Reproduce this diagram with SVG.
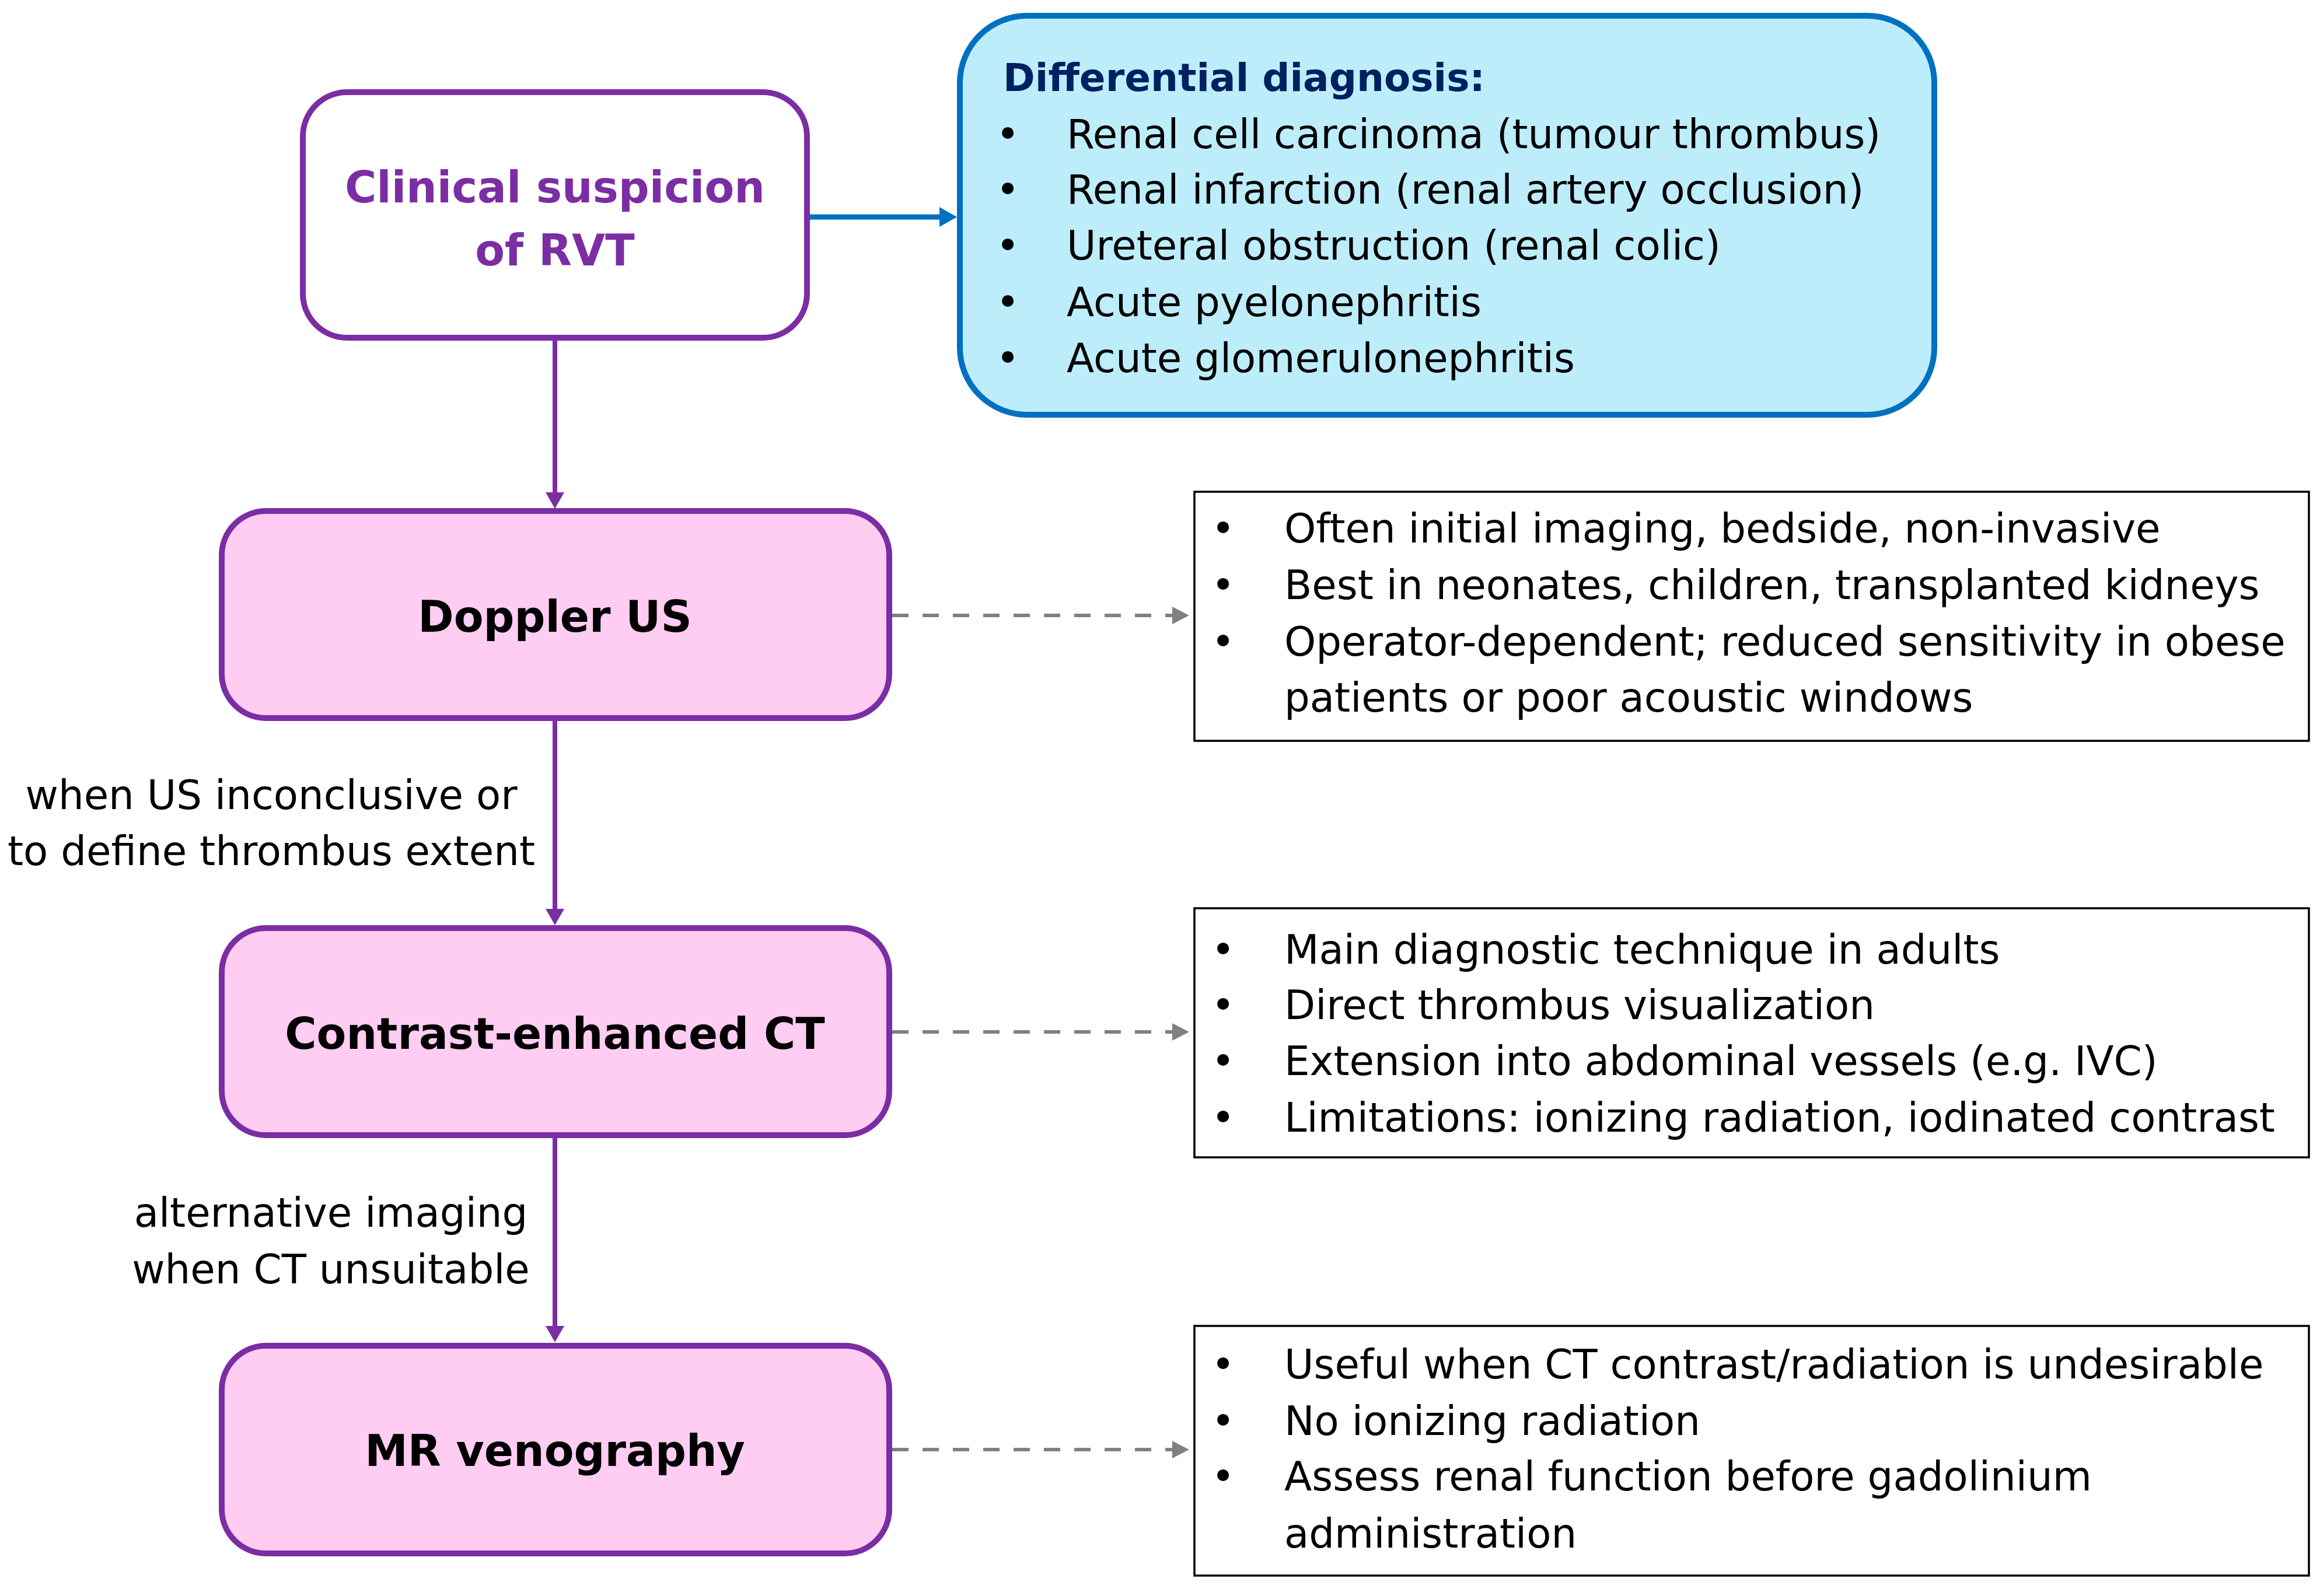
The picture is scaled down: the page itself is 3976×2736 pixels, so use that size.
<svg xmlns="http://www.w3.org/2000/svg" width="3976" height="2736" viewBox="0 0 3976 2736">
<style>
.txt{font-family:"DejaVu Sans","Liberation Sans",sans-serif;font-size:69px;fill:#000}
.ttl{font-family:"DejaVu Sans","Liberation Sans",sans-serif;font-size:74px;font-weight:bold;text-anchor:middle}
.mid{text-anchor:middle}
.step{fill:#FFCCF2;stroke:#7B2DA3;stroke-width:10}
.info{fill:#FFFFFF;stroke:#000;stroke-width:3.5}
.flow{stroke:#7B2DA3;stroke-width:8;fill:none}
.dash{stroke:#808080;stroke-width:6;fill:none;stroke-dasharray:28 24}
</style>
<defs>
<marker id="hp" markerUnits="userSpaceOnUse" viewBox="0 0 28 32" refX="1" refY="16" markerWidth="28" markerHeight="32" orient="auto"><path d="M0,0 L28,16 L0,32 Z" fill="#7B2DA3"/></marker>
<marker id="hb" markerUnits="userSpaceOnUse" viewBox="0 0 30 34" refX="1" refY="17" markerWidth="30" markerHeight="34" orient="auto"><path d="M0,0 L30,17 L0,34 Z" fill="#0070C0"/></marker>
<marker id="hg" markerUnits="userSpaceOnUse" viewBox="0 0 29 30" refX="0" refY="15" markerWidth="29" markerHeight="30" orient="auto"><path d="M0,0 L29,15 L0,30 Z" fill="#808080"/></marker>
</defs>
<rect width="3976" height="2736" fill="#FFFFFF"/>
<g id="connectors">
<line class="flow" x1="951" y1="584" x2="951" y2="845" marker-end="url(#hp)"/>
<line class="flow" x1="951" y1="1235" x2="951" y2="1559" marker-end="url(#hp)"/>
<line class="flow" x1="951" y1="1950" x2="951" y2="2274" marker-end="url(#hp)"/>
<line x1="1388" y1="372" x2="1611" y2="372" stroke="#0070C0" stroke-width="9" marker-end="url(#hb)"/>
<line class="dash" x1="1529" y1="1055" x2="2009" y2="1055" marker-end="url(#hg)"/>
<line class="dash" x1="1529" y1="1769" x2="2009" y2="1769" marker-end="url(#hg)"/>
<line class="dash" x1="1529" y1="2485" x2="2009" y2="2485" marker-end="url(#hg)"/>
<text class="txt mid" x="465" y="1387">when US inconclusive or</text>
<text class="txt mid" x="465" y="1483">to define thrombus extent</text>
<text class="txt mid" x="567" y="2103">alternative imaging</text>
<text class="txt mid" x="567" y="2200">when CT unsuitable</text>
</g>
<g id="clinical">
<rect x="519" y="158" width="864" height="421" rx="76" fill="#FFFFFF" stroke="#7B2DA3" stroke-width="10"/>
<text class="ttl" x="951" y="347" fill="#7B2DA3">Clinical suspicion</text>
<text class="ttl" x="951" y="455" fill="#7B2DA3">of RVT</text>
</g>
<g id="differential">
<rect x="1645" y="27" width="1670" height="684" rx="115" fill="#BDEDFB" stroke="#0070C0" stroke-width="10"/>
<text x="1719" y="156" style="font-family:'DejaVu Sans','Liberation Sans',sans-serif;font-size:66px;font-weight:bold;fill:#002060">Differential diagnosis:</text>
<g class="txt">
<text class="mid" x="1727" y="254">•</text><text x="1828" y="254">Renal cell carcinoma (tumour thrombus)</text>
<text class="mid" x="1727" y="349">•</text><text x="1828" y="349">Renal infarction (renal artery occlusion)</text>
<text class="mid" x="1727" y="445">•</text><text x="1828" y="445">Ureteral obstruction (renal colic)</text>
<text class="mid" x="1727" y="542">•</text><text x="1828" y="542">Acute pyelonephritis</text>
<text class="mid" x="1727" y="638">•</text><text x="1828" y="638">Acute glomerulonephritis</text>
</g>
</g>
<g id="doppler">
<rect class="step" x="380" y="876" width="1144" height="355" rx="76"/>
<text class="ttl" x="951" y="1083">Doppler US</text>
</g>
<g id="doppler-notes">
<rect class="info" x="2047" y="843" width="1910" height="427"/>
<g class="txt">
<text class="mid" x="2096" y="930">•</text><text x="2201" y="930">Often initial imaging, bedside, non-invasive</text>
<text class="mid" x="2096" y="1027">•</text><text x="2201" y="1027">Best in neonates, children, transplanted kidneys</text>
<text class="mid" x="2096" y="1124">•</text><text x="2201" y="1124">Operator-dependent; reduced sensitivity in obese</text>
<text x="2201" y="1220">patients or poor acoustic windows</text>
</g>
</g>
<g id="ct">
<rect class="step" x="380" y="1591" width="1144" height="355" rx="76"/>
<text class="ttl" x="951" y="1798">Contrast-enhanced CT</text>
</g>
<g id="ct-notes">
<rect class="info" x="2047" y="1557" width="1910" height="427"/>
<g class="txt">
<text class="mid" x="2096" y="1652">•</text><text x="2201" y="1652">Main diagnostic technique in adults</text>
<text class="mid" x="2096" y="1747">•</text><text x="2201" y="1747">Direct thrombus visualization</text>
<text class="mid" x="2096" y="1843">•</text><text x="2201" y="1843">Extension into abdominal vessels (e.g. IVC)</text>
<text class="mid" x="2096" y="1940">•</text><text x="2201" y="1940">Limitations: ionizing radiation, iodinated contrast</text>
</g>
</g>
<g id="mr">
<rect class="step" x="380" y="2307" width="1144" height="356" rx="76"/>
<text class="ttl" x="951" y="2513">MR venography</text>
</g>
<g id="mr-notes">
<rect class="info" x="2047" y="2273" width="1910" height="428"/>
<g class="txt">
<text class="mid" x="2096" y="2363">•</text><text x="2201" y="2363">Useful when CT contrast/radiation is undesirable</text>
<text class="mid" x="2096" y="2460">•</text><text x="2201" y="2460">No ionizing radiation</text>
<text class="mid" x="2096" y="2555">•</text><text x="2201" y="2555">Assess renal function before gadolinium</text>
<text x="2201" y="2653">administration</text>
</g>
</g>
</svg>
